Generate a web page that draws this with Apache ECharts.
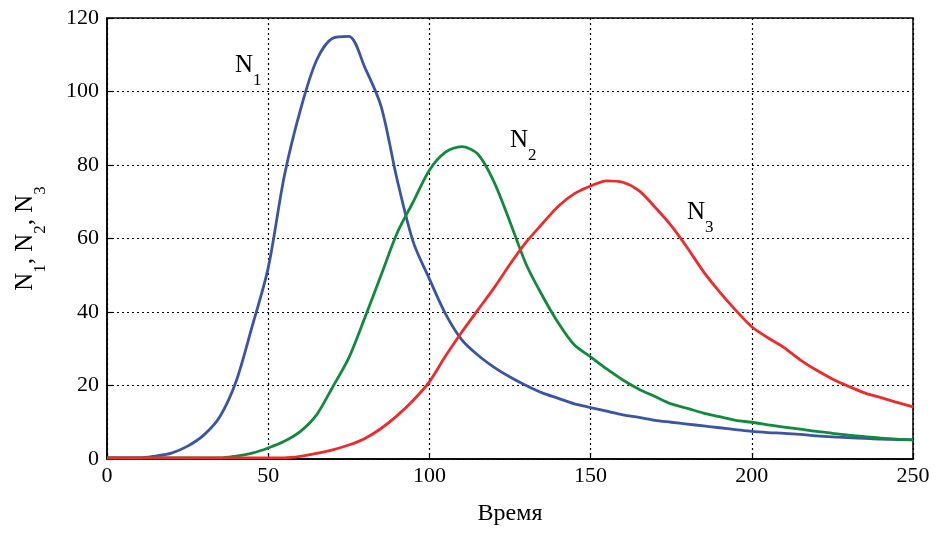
<!DOCTYPE html>
<html>
<head>
<meta charset="utf-8">
<script src="https://cdn.jsdelivr.net/npm/echarts@6/dist/echarts.min.js"></script>
<style>
html,body{margin:0;padding:0;background:#fff;}
#c{width:938px;height:533px;}
</style>
</head>
<body>
<div id="c"></div>
<script>
const time = [0,5,10,15,20,25,30,35,40,45,50,55,60,65,70,75,80,85,90,95,100,105,110,115,120,125,130,135,140,145,150,155,160,165,170,175,180,185,190,195,200,205,210,215,220,225,230,235,240,245,250];
const n1 = [0.3,0.3,0.3,0.8,1.6,3.5,6.5,11.5,21,36,52,77,95,108.5,114.5,115,106.5,96,76,59,49,39.5,32.5,28.3,25,22.3,20,18,16.5,15,14,13,12,11.3,10.5,10,9.5,9,8.5,8,7.5,7.2,7,6.7,6.3,6,5.8,5.6,5.4,5.3,5.2];
const n2 = [0.3,0.3,0.3,0.3,0.3,0.3,0.3,0.3,0.8,1.6,3,4.8,7.5,12,19.6,27.5,38.5,50,61.5,70,78.6,83.5,85,83,75.5,64.5,53,44.5,37,31,27.8,24.5,21.5,19,17,15,13.8,12.5,11.5,10.5,10,9.3,8.7,8.1,7.5,7,6.5,6.1,5.7,5.4,5.2];
const n3 = [0.3,0.3,0.3,0.3,0.3,0.3,0.3,0.3,0.3,0.3,0.3,0.3,0.7,1.5,2.5,3.8,5.6,8.3,11.8,16,21,28,34.5,40.5,46.5,53,59,64,68.8,72.2,74.3,75.7,75.3,73,68.5,63.5,57.5,51,45.5,40.5,36,33,30.3,27,24.2,21.8,19.8,18,16.7,15.4,14.2];
const seriesNames = ['N1','N2','N3'];
const xTicks = [0,50,100,150,200,250];
const yTicks = [0,20,40,60,80,100,120];

const FONT = 'Liberation Serif';
const pair = (arr) => time.map((t,i)=>[t,arr[i]]);
const rich = {
  n:{fontFamily:FONT,fontSize:25,color:'#000',verticalAlign:'top',lineHeight:36},
  s:{fontFamily:FONT,fontSize:17,color:'#000',verticalAlign:'bottom',lineHeight:36}
};
const gridLine = {show:true,lineStyle:{color:'#000',type:[2,3],width:1.2}};

const chart = echarts.init(document.getElementById('c'));
chart.setOption({
  animation:false,
  backgroundColor:'#fff',
  grid:{left:107,right:25,top:18,bottom:74,show:true,borderColor:'#000',borderWidth:1.5,backgroundColor:'transparent'},
  xAxis:{type:'value',min:xTicks[0],max:xTicks[xTicks.length-1],interval:50,
    name:'Время',nameLocation:'middle',nameGap:43,
    nameTextStyle:{fontFamily:FONT,fontSize:24,color:'#000'},
    axisLine:{show:true,lineStyle:{color:'#000',width:1.5}},
    axisTick:{show:true,inside:true,length:6,lineStyle:{color:'#000',width:1.2}},
    axisLabel:{fontFamily:FONT,fontSize:22,color:'#000',margin:6},
    splitLine:gridLine},
  yAxis:{type:'value',min:yTicks[0],max:yTicks[yTicks.length-1],interval:20,
    name:'{n|N}{s|1}{n|, N}{s|2}{n|, N}{s|3}',nameLocation:'middle',nameGap:58,
    nameTextStyle:{rich:rich},
    axisLine:{show:true,lineStyle:{color:'#000',width:1.5}},
    axisTick:{show:true,inside:true,length:6,lineStyle:{color:'#000',width:1.2}},
    axisLabel:{fontFamily:FONT,fontSize:22,color:'#000',margin:8},
    splitLine:gridLine},
  series:[
    {name:seriesNames[0],type:'line',data:pair(n1),smooth:0.3,symbol:'none',lineStyle:{color:'#3a54a6',width:2.8}},
    {name:seriesNames[1],type:'line',data:pair(n2),smooth:0.3,symbol:'none',lineStyle:{color:'#118a3e',width:2.8}},
    {name:seriesNames[2],type:'line',data:pair(n3),smooth:0.3,symbol:'none',lineStyle:{color:'#ee2a2a',width:2.8}}
  ],
  graphic:[
    {type:'text',left:235,top:53,style:{text:'{n|N}{s|1}',rich:rich}},
    {type:'text',left:510,top:128,style:{text:'{n|N}{s|2}',rich:rich}},
    {type:'text',left:687,top:200,style:{text:'{n|N}{s|3}',rich:rich}}
  ]
});
</script>
</body>
</html>
